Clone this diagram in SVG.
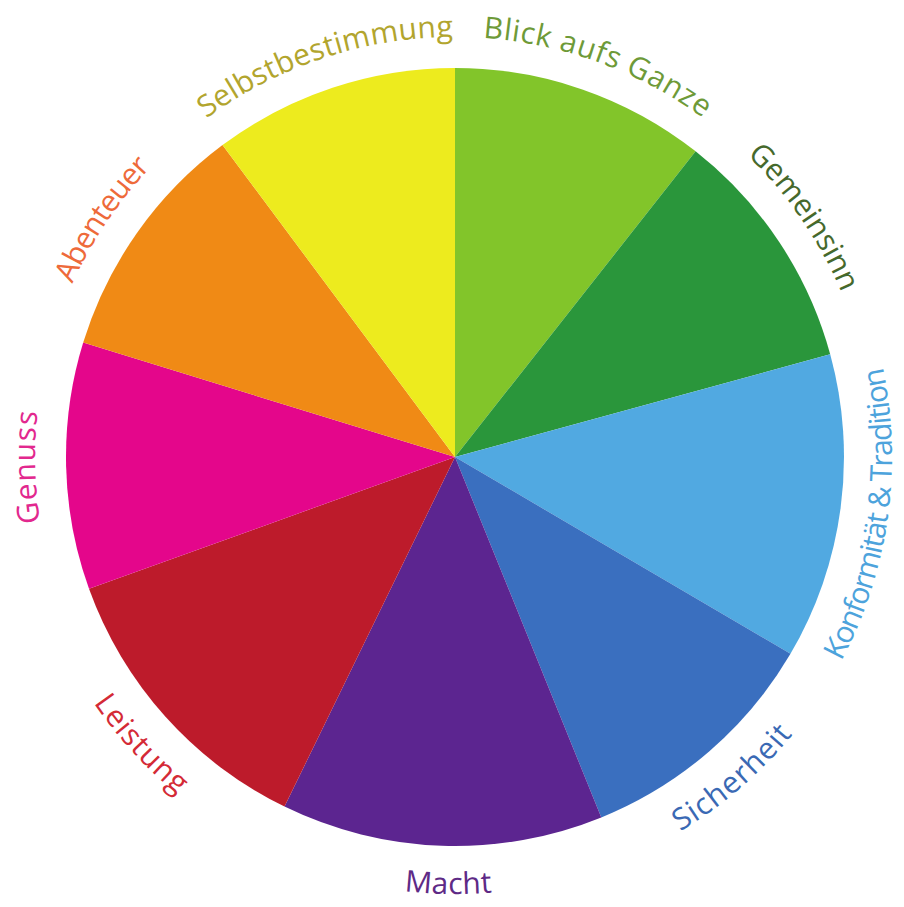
<svg xmlns="http://www.w3.org/2000/svg" xmlns:xlink="http://www.w3.org/1999/xlink" width="904" height="907" viewBox="0 0 904 907">
<style>
.lbl{font-family:"Open Sans","Liberation Sans",sans-serif;font-size:30px;font-weight:400}
.seg{stroke:none}
</style>
<defs>
<path id="p-selbst" d="M97.7,236.3 A420,420 0 0 1 610.3,66.8"/>
<path id="p-blick" d="M311.4,62.3 A420,420 0 0 1 818.7,247"/>
<path id="p-gemein" d="M567.2,52.3 A420,420 0 0 1 873.1,497.2"/>
<path id="p-genuss" d="M140.0,734.7 A420,420 0 0 1 126.8,195.0"/>
<path id="p-abent" d="M37.3,500.9 A420,420 0 0 1 339.2,53.3"/>
<path id="p-konf" d="M747.4,781.7 A437,437 0 0 0 825.6,225.4"/>
<path id="p-sicher" d="M461.1,894 A437,437 0 0 0 886.4,526.9"/>
<path id="p-macht" d="M168.9,787.3 A437,437 0 0 0 730.6,796.1"/>
<path id="p-leist" d="M18.4,475.3 A437,437 0 0 0 397.2,890.2"/>
</defs>
<rect width="904" height="907" fill="#ffffff"/>
<g id="wheel">
<g id="blick-aufs-ganze"><path class="seg" fill="#82C52A" d="M455,457 L455,68 A389,389 0 0 1 695.6,151.3 Z"/><text class="lbl" fill="#6E9A38" text-anchor="middle"><textPath xlink:href="#p-blick" href="#p-blick" startOffset="50%" textLength="237">Blick aufs Ganze</textPath></text></g>
<g id="gemeinsinn"><path class="seg" fill="#2A963B" d="M455,457 L695.6,151.3 A389,389 0 0 1 830.2,354.3 Z"/><text class="lbl" fill="#46692C" text-anchor="middle"><textPath xlink:href="#p-gemein" href="#p-gemein" startOffset="50%" textLength="168">Gemeinsinn</textPath></text></g>
<g id="konformitaet-tradition"><path class="seg" fill="#51A9E1" d="M455,457 L830.2,354.3 A389,389 0 0 1 790.5,653.8 Z"/><text class="lbl" fill="#4DA3DC" text-anchor="middle"><textPath xlink:href="#p-konf" href="#p-konf" startOffset="50%" textLength="303">Konformität &amp; Tradition</textPath></text></g>
<g id="sicherheit"><path class="seg" fill="#3A6FBF" d="M455,457 L790.5,653.8 A389,389 0 0 1 601.3,817.4 Z"/><text class="lbl" fill="#3A69B4" text-anchor="middle"><textPath xlink:href="#p-sicher" href="#p-sicher" startOffset="50%" textLength="149">Sicherheit</textPath></text></g>
<g id="macht"><path class="seg" fill="#5C2590" d="M455,457 L601.3,817.4 A389,389 0 0 1 284.5,806.6 Z"/><text class="lbl" fill="#5E2A86" text-anchor="middle"><textPath xlink:href="#p-macht" href="#p-macht" startOffset="50%" textLength="88">Macht</textPath></text></g>
<g id="leistung"><path class="seg" fill="#BD1B2B" d="M455,457 L284.5,806.6 A389,389 0 0 1 89.0,588.8 Z"/><text class="lbl" fill="#D42A36" text-anchor="middle"><textPath xlink:href="#p-leist" href="#p-leist" startOffset="50%" textLength="125">Leistung</textPath></text></g>
<g id="genuss"><path class="seg" fill="#E4068B" d="M455,457 L89.0,588.8 A389,389 0 0 1 83.2,342.6 Z"/><text class="lbl" fill="#E2288E" text-anchor="middle"><textPath xlink:href="#p-genuss" href="#p-genuss" startOffset="50%" textLength="111">Genuss</textPath></text></g>
<g id="abenteuer"><path class="seg" fill="#F08A15" d="M455,457 L83.2,342.6 A389,389 0 0 1 222.5,145.1 Z"/><text class="lbl" fill="#EE6A3A" text-anchor="middle"><textPath xlink:href="#p-abent" href="#p-abent" startOffset="50%" textLength="141">Abenteuer</textPath></text></g>
<g id="selbstbestimmung"><path class="seg" fill="#EDEB1E" d="M455,457 L222.5,145.1 A389,389 0 0 1 455,68 Z"/><text class="lbl" fill="#B2A52E" text-anchor="middle"><textPath xlink:href="#p-selbst" href="#p-selbst" startOffset="50%" textLength="264">Selbstbestimmung</textPath></text></g>
</g>
<g id="connectors"/>
</svg>
